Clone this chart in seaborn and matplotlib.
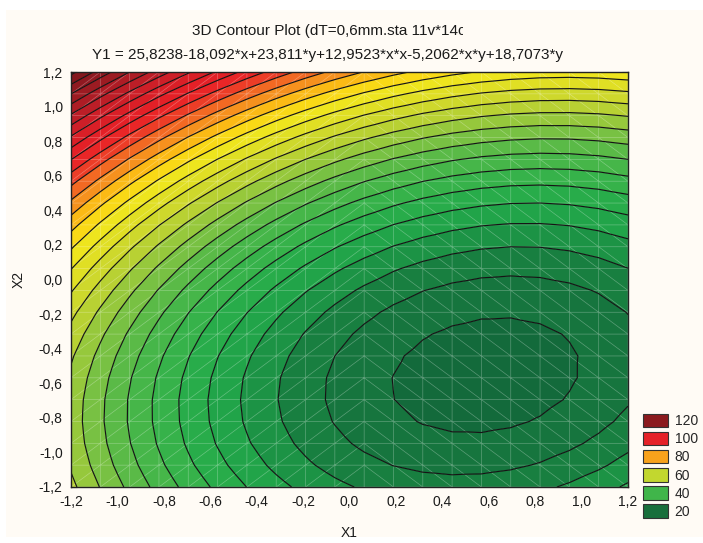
import numpy as np
import matplotlib
matplotlib.use("Agg")
import matplotlib.pyplot as plt
import matplotlib.tri as mtri
import seaborn as sns
from matplotlib.colors import LinearSegmentedColormap
from matplotlib.patches import Patch, Rectangle
from matplotlib.ticker import MultipleLocator, FuncFormatter
from matplotlib.transforms import Bbox, TransformedBbox

# ---- data (fitted surface from the chart title) ----
coef_names = ["const", "x", "y", "x*x", "x*y", "y*y"]
coef_values = [25.8238, -18.092, 23.811, 12.9523, -5.2062, 18.7073]
x_range = [-1.2, 1.2]
y_range = [-1.2, 1.2]
n_grid = 20
contour_levels = list(range(16, 129, 4))
fill_levels = list(range(12, 133, 4))
legend_values = [120, 100, 80, 60, 40, 20]
legend_colors = ["#8B1A1E", "#E52229", "#F8A21C", "#C2D72F", "#40B54A", "#186F3C"]
tick_values = [-1.2, -1.0, -0.8, -0.6, -0.4, -0.2, 0.0, 0.2, 0.4, 0.6, 0.8, 1.0, 1.2]
title1 = "3D Contour Plot (dT=0,6mm.sta 11v*14c)"
title2 = "Y1 = 25,8238-18,092*x+23,811*y+12,9523*x*x-5,2062*x*y+18,7073*y*y"

# colour anchors (value, colour)
cmap_values = [12, 14, 18, 22, 26, 30, 34, 38, 42, 46, 50, 54, 57, 60, 64, 68, 72, 76,
               80, 84, 88, 92, 96, 100, 106, 112, 118, 124, 132]
cmap_colors = ["#11633A", "#136A3B", "#16763E", "#187F40", "#1C9545", "#21A449", "#29AD4A",
               "#36B24A", "#45B649", "#5BBA47", "#77C143", "#97C83C", "#B0CF36", "#C6D52F",
               "#D8DC28", "#E8E220", "#F5E81C", "#FCCB10", "#F9A61B", "#F47E21", "#EF5226",
               "#EA2A27", "#E72128", "#E01F27", "#CD1F28", "#B51D26", "#9D1B22", "#881820",
               "#771418"]

sns.set_theme(style="ticks")
plt.rcParams["font.family"] = ["Liberation Sans", "DejaVu Sans"]

xs = np.linspace(x_range[0], x_range[1], n_grid)
ys = np.linspace(y_range[0], y_range[1], n_grid)
X, Y = np.meshgrid(xs, ys)
c = coef_values
Z = c[0] + c[1] * X + c[2] * Y + c[3] * X * X + c[4] * X * Y + c[5] * Y * Y

# triangulation: "/" diagonals on the left half, "\" on the right half
tris = []
for j in range(n_grid - 1):
    for i in range(n_grid - 1):
        a = j * n_grid + i
        b = a + 1
        d = a + n_grid
        e = d + 1
        if xs[i] < 0.0:
            tris += [[a, b, e], [a, e, d]]
        else:
            tris += [[a, b, d], [b, e, d]]
tri = mtri.Triangulation(X.ravel(), Y.ravel(), np.array(tris))

vmin, vmax = cmap_values[0], cmap_values[-1]
cmap = LinearSegmentedColormap.from_list(
    "stat", [((v - vmin) / (vmax - vmin), col) for v, col in zip(cmap_values, cmap_colors)])
band_colors = [cmap(((lo + hi) / 2 - vmin) / (vmax - vmin)) for lo, hi in zip(fill_levels[:-1], fill_levels[1:])]

fig = plt.figure(figsize=(7.03, 5.43), dpi=100, facecolor="white")
fig.patches.append(Rectangle((6 / 703, 6 / 543), 697 / 703, 527 / 543, transform=fig.transFigure,
                             facecolor="#FFFBF5", edgecolor="none", zorder=-10))
ax = fig.add_axes([71 / 703, 1 - 487 / 543, (628 - 71) / 703, (487 - 72) / 543])

ax.tricontourf(tri, Z.ravel(), levels=fill_levels, colors=band_colors, antialiased=True)
ax.triplot(tri, color="white", lw=0.5, alpha=0.3)
ax.tricontour(tri, Z.ravel(), levels=contour_levels, colors="#151515", linewidths=0.85)

ax.set_xlim(x_range)
ax.set_ylim(y_range)
ax.set_xticks(tick_values)
ax.set_yticks(tick_values)
ax.xaxis.set_minor_locator(MultipleLocator(0.1))
ax.yaxis.set_minor_locator(MultipleLocator(0.1))
fmt = FuncFormatter(lambda v, p: ("%.1f" % (0.0 if abs(v) < 1e-9 else v)).replace(".", ","))
ax.xaxis.set_major_formatter(fmt)
ax.yaxis.set_major_formatter(fmt)
ax.tick_params(which="both", direction="in", top=True, right=True, color="#222222",
               labelsize=10, labelcolor="#1a1a1a")
ax.tick_params(which="major", length=4, width=0.8, pad=6)
ax.tick_params(which="minor", length=3, width=0.8)
for s in ax.spines.values():
    s.set_color("#222222")
    s.set_linewidth(1.0)

ax.set_xlabel("X1", fontsize=10, color="#1a1a1a", labelpad=12)
ax.set_ylabel("X2", fontsize=10, color="#1a1a1a", labelpad=9)

t1 = fig.text(192 / 703, 1 - 35 / 543, title1, fontsize=11, color="#1a1a1a", ha="left", va="baseline")
t1.set_clip_box(TransformedBbox(Bbox([[0, 0], [463 / 703, 1]]), fig.transFigure))
t1.set_clip_on(True)
t2 = fig.text(92 / 703, 1 - 59 / 543, title2, fontsize=11, color="#1a1a1a", ha="left", va="baseline")
t2.set_clip_box(TransformedBbox(Bbox([[0, 0], [563 / 703, 1]]), fig.transFigure))
t2.set_clip_on(True)

handles = [Patch(facecolor=col, edgecolor="#333333", linewidth=0.8) for col in legend_colors]
fig.legend(handles, [str(v) for v in legend_values], loc="upper left",
           bbox_to_anchor=(640 / 703, 1 - 411 / 543), frameon=False, fontsize=10,
           handlelength=1.8, handleheight=1.1, labelspacing=0.27, handletextpad=0.5,
           borderaxespad=0, borderpad=0.2)

fig.savefig("out.png", dpi=100, facecolor=fig.get_facecolor())
